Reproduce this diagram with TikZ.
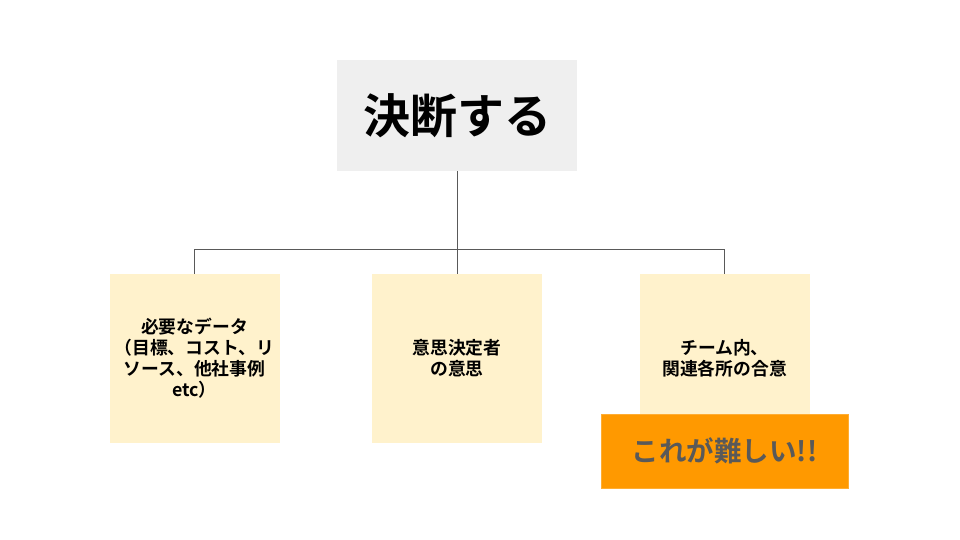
\documentclass[tikz,border=0pt]{standalone}
\usepackage{fontspec}
\setmainfont{Noto Sans CJK JP}[BoldFont={* Bold}]
\newfontfamily\jpb{Noto Sans CJK JP Bold}
\definecolor{topfill}{HTML}{EFEFEF}
\definecolor{boxfill}{HTML}{FFF2CC}
\definecolor{orangefill}{HTML}{FF9900}
\definecolor{linegray}{HTML}{595959}
\definecolor{textgray}{HTML}{595959}
\begin{document}
\begin{tikzpicture}[x=1pt,y=-1pt,
  topbox/.style={fill=topfill, inner sep=0pt, minimum width=240pt, minimum height=111pt, font=\jpb\fontsize{47}{52}\selectfont},
  itembox/.style={fill=boxfill, inner sep=0pt, minimum width=170pt, minimum height=169pt, align=center, font=\jpb\fontsize{17.8}{21}\selectfont},
  alertbox/.style={fill=orangefill, draw=orangefill!80!white, line width=0.6pt, inner sep=0pt, minimum width=247pt, minimum height=74pt, text=textgray, font=\jpb\fontsize{27.5}{32}\selectfont},
  conn/.style={draw=linegray, line width=0.8pt}]
\useasboundingbox (0,0) rectangle (960,540);
\node[topbox] (top) at (457,115.5) {決断する};
\node[itembox] (a) at (194.5,358.5) {必要なデータ\\（目標、コスト、リ\\ソース、他社事例\\etc）};
\node[itembox] (b) at (457,358.5) {意思決定者\\の意思};
\node[itembox] (c) at (724.5,358.5) {チーム内、\\関連各所の合意};
\node[alertbox] (d) at (724.5,451) {これが難しい!!};
\coordinate (j) at (457,249);
\draw[conn] (top.south) -- (j);
\draw[conn] (j) -- (b.north);
\draw[conn] (j) -| (a.north);
\draw[conn] (j) -| (c.north);
\end{tikzpicture}
\end{document}
